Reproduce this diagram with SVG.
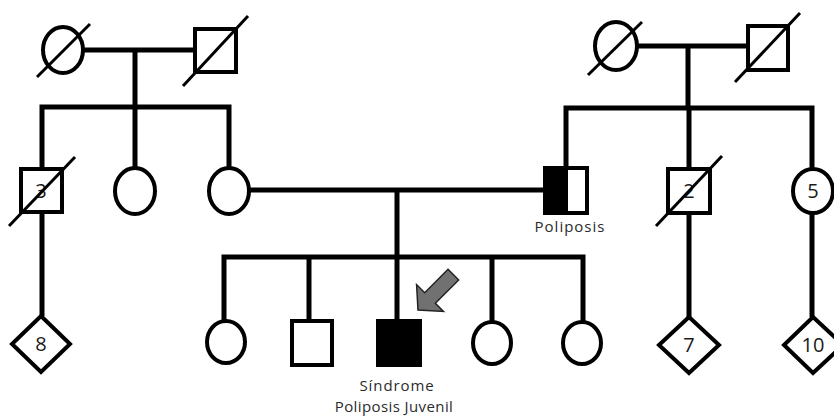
<svg xmlns="http://www.w3.org/2000/svg" width="834" height="418" viewBox="0 0 834 418">
  <style>
    .ln { stroke: #000; stroke-width: 5; fill: none; stroke-linecap: butt; }
    .sh { stroke: #000; stroke-width: 4; fill: #fff; }
    .aff { stroke: #000; stroke-width: 4; fill: #000; }
    .dec { stroke: #000; stroke-width: 3; }
    .num { font-family: "Open Sans", "Liberation Sans", sans-serif; font-size: 20px; fill: #1a1a1a; text-anchor: middle; }
    .lbl { font-family: "Open Sans", "Liberation Sans", sans-serif; font-size: 15px; fill: #2b2b2b; text-anchor: middle; }
  </style>
  <rect width="834" height="418" fill="#fff"/>

  <!-- connectors: marriages, descents and sibships -->
  <g id="connectors">
    <line class="ln" x1="83" y1="50" x2="195" y2="50"/>
    <line class="ln" x1="135" y1="50" x2="135" y2="107"/>
    <polyline class="ln" points="42,170 42,107 229,107 229,168"/>
    <line class="ln" x1="135" y1="107" x2="135" y2="168"/>

    <line class="ln" x1="637" y1="46" x2="748" y2="46"/>
    <line class="ln" x1="688" y1="46" x2="688" y2="108"/>
    <polyline class="ln" points="566,168 566,108 812,108 812,169"/>
    <line class="ln" x1="689" y1="108" x2="689" y2="169"/>

    <line class="ln" x1="249" y1="190" x2="545" y2="190"/>
    <line class="ln" x1="397" y1="190" x2="397" y2="321"/>
    <polyline class="ln" points="224,321 224,257 583,257 583,322"/>
    <line class="ln" x1="309" y1="257" x2="309" y2="321"/>
    <line class="ln" x1="492" y1="257" x2="492" y2="322"/>

    <line class="ln" x1="42" y1="212" x2="42" y2="316"/>
    <line class="ln" x1="689" y1="213" x2="689" y2="317"/>
    <line class="ln" x1="812" y1="213" x2="812" y2="317"/>
  </g>

  <!-- generation I, paternal side -->
  <g id="gm-left">
    <ellipse class="sh" cx="63" cy="50" rx="20" ry="23"/>
    <line class="dec" x1="37" y1="77" x2="90" y2="24"/>
  </g>
  <g id="gf-left">
    <rect class="sh" x="195" y="29" width="41" height="43"/>
    <line class="dec" x1="183" y1="86" x2="248" y2="16"/>
  </g>

  <!-- generation I, maternal side -->
  <g id="gm-right">
    <ellipse class="sh" cx="616" cy="46" rx="21" ry="24"/>
    <line class="dec" x1="588" y1="75" x2="642" y2="22"/>
  </g>
  <g id="gf-right">
    <rect class="sh" x="748" y="26" width="40" height="44"/>
    <line class="dec" x1="735" y1="82" x2="800" y2="13"/>
  </g>

  <!-- generation II -->
  <g id="uncle-3">
    <rect class="sh" x="21" y="169" width="41" height="43"/>
    <text class="num" x="41" y="198">3</text>
    <line class="dec" x1="9" y1="226" x2="75" y2="157"/>
  </g>
  <g id="aunt-left">
    <ellipse class="sh" cx="135" cy="191" rx="20" ry="23"/>
  </g>
  <g id="mother">
    <ellipse class="sh" cx="229" cy="191" rx="20" ry="23"/>
  </g>
  <g id="father">
    <rect class="sh" x="545" y="168" width="42" height="45"/>
    <rect x="545" y="168" width="23" height="45" fill="#000"/>
    <text class="lbl" x="570" y="232" letter-spacing="1">Poliposis</text>
  </g>
  <g id="uncle-2">
    <rect class="sh" x="668" y="169" width="42" height="44"/>
    <text class="num" x="689" y="198">2</text>
    <line class="dec" x1="656" y1="226" x2="722" y2="156"/>
  </g>
  <g id="aunt-5">
    <ellipse class="sh" cx="813" cy="191" rx="20" ry="22"/>
    <text class="num" x="813" y="198">5</text>
  </g>

  <!-- generation III -->
  <g id="cousins-8">
    <polygon class="sh" points="41,316 70,344 41,372 12,344"/>
    <text class="num" x="41" y="351">8</text>
  </g>
  <g id="sister-1">
    <ellipse class="sh" cx="226" cy="342" rx="19" ry="21"/>
  </g>
  <g id="brother">
    <rect class="sh" x="292" y="321" width="40" height="44"/>
  </g>
  <g id="proband">
    <rect class="aff" x="378" y="321" width="42" height="44"/>
    <polygon points="-50,-7.5 -17,-7.5 -17,-19 0,0 -17,19 -17,7.5 -50,7.5"
             transform="translate(418,310) rotate(135)"
             fill="#717171" stroke="#222" stroke-width="1.5" stroke-linejoin="miter"/>
    <text class="lbl" x="397" y="391" letter-spacing="0.9">Síndrome</text>
    <text class="lbl" x="394" y="412" letter-spacing="0.4">Poliposis Juvenil</text>
  </g>
  <g id="sister-2">
    <ellipse class="sh" cx="492" cy="343" rx="19" ry="21"/>
  </g>
  <g id="sister-3">
    <ellipse class="sh" cx="582" cy="343" rx="19" ry="21"/>
  </g>
  <g id="cousins-7">
    <polygon class="sh" points="689,317 719,345 689,373 659,345"/>
    <text class="num" x="689" y="352">7</text>
  </g>
  <g id="cousins-10">
    <polygon class="sh" points="813,317 843,345 813,373 784,345"/>
    <text class="num" x="813" y="352">10</text>
  </g>
</svg>
